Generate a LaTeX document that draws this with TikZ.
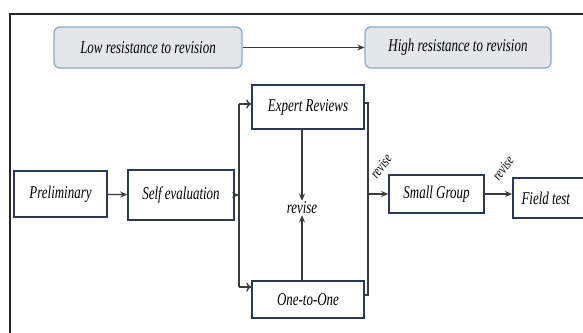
\documentclass[tikz,border=0pt]{standalone}
\usepackage{fontspec}
\setmainfont{Liberation Serif}[FakeStretch=0.72]
\usetikzlibrary{arrows.meta}
\definecolor{navy}{HTML}{2B3A52}
\definecolor{paleblue}{HTML}{8FA9C8}
\definecolor{palefill}{HTML}{E4E6EA}
\definecolor{linegray}{HTML}{3A3A3A}
\tikzset{
  stagebox/.style={draw=navy, line width=1.6pt, fill=white, inner sep=0pt, font=\fontsize{18}{20}\selectfont\itshape},
  resbox/.style={draw=paleblue, line width=1.3pt, fill=palefill, rounded corners=6pt, inner sep=0pt, font=\fontsize{18}{20}\selectfont\itshape},
  conn/.style={draw=linegray, line width=1.3pt},
  solidarrow/.style={conn, -{Stealth[length=7pt,width=6pt]}},
  openarrow/.style={conn, -{To[length=5pt,width=9pt]}},
  revlabel/.style={font=\fontsize{18}{20}\selectfont\itshape, inner sep=1pt},
  rotlabel/.style={font=\fontsize{15}{17}\selectfont\itshape, inner sep=0pt, rotate=52}
}
\begin{document}
\begin{tikzpicture}[x=1pt,y=-1pt]
\useasboundingbox (0,0) rectangle (583,332);
\clip (0,0) rectangle (583,332);
% outer frame (cut by the image edge)
\draw[line width=2pt, draw=black!85] (9.5,13.5) rectangle (620,360);
% top resistance boxes
\node[resbox, minimum width=188pt, minimum height=41pt] (low) at (148,47.5) {Low resistance to revision};
\node[resbox, minimum width=186pt, minimum height=41pt] (high) at (458,47.5) {High resistance to revision};
\draw[solidarrow] (low) -- (high);
% stage boxes
\node[stagebox, minimum width=93pt, minimum height=46pt] (pre) at (60.5,194) {Preliminary};
\node[stagebox, minimum width=106pt, minimum height=50pt] (self) at (181,195) {Self evaluation};
\node[stagebox, minimum width=112pt, minimum height=44pt] (expert) at (308,107) {Expert Reviews};
\node[stagebox, minimum width=112pt, minimum height=37pt] (one) at (308,299.5) {One-to-One};
\node[stagebox, minimum width=95pt, minimum height=38pt] (small) at (436.5,194) {Small Group};
\node[stagebox, minimum width=80pt, minimum height=40pt, anchor=west] (field) at (512,198) {\hspace*{-14pt}Field test};
\node[revlabel] (rev) at (302,208) {revise};
\node[rotlabel] (rev1) at (381,166) {revise};
\node[rotlabel] (rev2) at (503,168) {revise};
% bracket coordinates
\coordinate (lt) at (239,104);
\coordinate (lb) at (239,287);
\coordinate (rt) at (368,103);
\coordinate (rb) at (368,295);
% connectors
\draw[solidarrow] (pre) -- (self);
\draw[solidarrow] (self.east) -- (self.east -| lt);
\draw[conn] (lt) -- (lb);
\draw[openarrow] (lt) -- (lt -| expert.west);
\draw[openarrow] (lb) -- (lb -| one.west);
\draw[solidarrow] (rev.north |- expert.south) -- (rev.north);
\draw[solidarrow] (rev.south |- one.north) -- (rev.south);
\draw[conn] (rt -| expert.east) -- (rt) -- (rb) -- (rb -| one.east);
\draw[solidarrow] (rt |- small.west) -- (small.west);
\draw[solidarrow] (small.east) -- (small.east -| field.west);
\end{tikzpicture}
\end{document}
